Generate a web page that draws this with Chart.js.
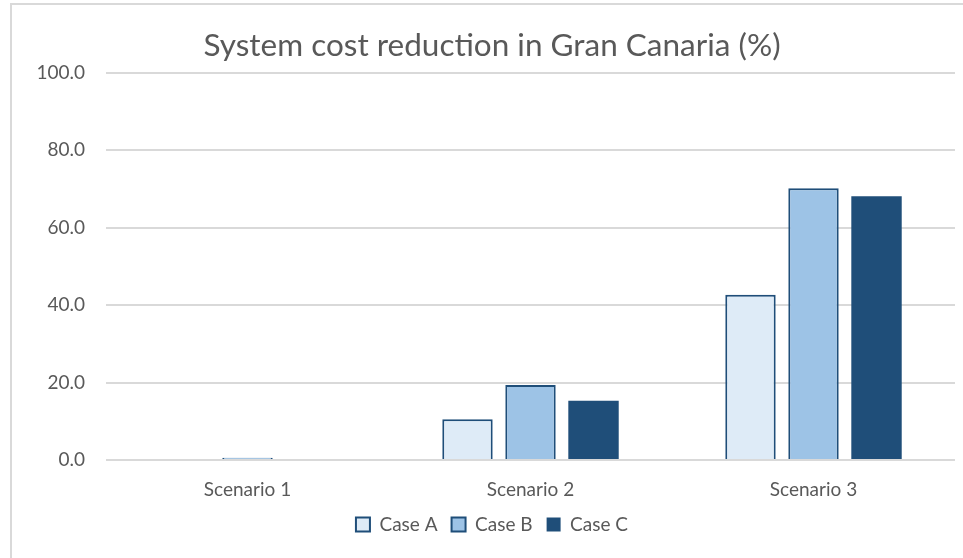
<!DOCTYPE html>
<html>
<head>
<meta charset="utf-8">
<script src="https://cdn.jsdelivr.net/npm/chart.js@4/dist/chart.umd.min.js"></script>
<style>
  html, body { margin: 0; padding: 0; background: #fff; }
  #wrap { position: relative; width: 963px; height: 558px; overflow: hidden; }
  #frame { position: absolute; left: 10px; top: 3px; width: 970px; height: 580px;
           border: 2px solid #d9d9d9; box-sizing: border-box; pointer-events: none; }
  canvas { position: absolute; left: 0; top: 0; }
</style>
</head>
<body>
<div id="wrap">
  <canvas id="chart" width="963" height="558"></canvas>
  <div id="frame"></div>
</div>
<script>
const titleText = 'System cost reduction in Gran Canaria (%)';
const scenarios = ['Scenario 1', 'Scenario 2', 'Scenario 3'];
const caseNames = ['Case A', 'Case B', 'Case C'];
const caseA = [0, 10.5, 42.7];
const caseB = [0.6, 19.4, 70.2];
const caseC = [0, 15.3, 68.1];
const yTicks = [0, 20, 40, 60, 80, 100];

const FONT = 'Lato, "Open Sans", sans-serif';
const GREY = '#595959';
const EDGE = '#1f4e79';

const ctx = document.getElementById('chart').getContext('2d');
new Chart(ctx, {
  type: 'bar',
  data: {
    labels: scenarios,
    datasets: [
      { label: caseNames[0], data: caseA, backgroundColor: '#deebf7', borderColor: EDGE, borderWidth: 2 },
      { label: caseNames[1], data: caseB, backgroundColor: '#9dc3e6', borderColor: EDGE, borderWidth: 2 },
      { label: caseNames[2], data: caseC, backgroundColor: '#1f4e79', borderColor: EDGE, borderWidth: 0 }
    ]
  },
  options: {
    responsive: false,
    animation: false,
    categoryPercentage: 0.668,
    barPercentage: 0.8,
    layout: { padding: { left: 29, right: 8, top: 27, bottom: 14 } },
    plugins: {
      title: {
        display: true,
        text: titleText,
        color: GREY,
        font: { family: FONT, size: 31.5, weight: 'normal' },
        padding: { top: 0, bottom: 8 }
      },
      legend: {
        position: 'bottom',
        labels: {
          color: GREY,
          font: { family: FONT, size: 19 },
          boxWidth: 14,
          boxHeight: 14,
          padding: 14
        }
      },
      tooltip: { enabled: false }
    },
    scales: {
      x: {
        afterFit: (s) => { s.height = 41; },
        grid: { display: false, drawTicks: false },
        border: { display: false },
        ticks: { color: GREY, font: { family: FONT, size: 19 }, padding: 18 }
      },
      y: {
        min: 0,
        max: 100,
        afterFit: (s) => { s.width = 77; },
        afterBuildTicks: (s) => { s.ticks = yTicks.map(v => ({ value: v })); },
        grid: { color: '#d9d9d9', lineWidth: 2, drawTicks: false },
        border: { display: false },
        ticks: {
          color: GREY,
          font: { family: FONT, size: 19 },
          padding: 21,
          callback: (v) => Number(v).toFixed(1)
        }
      }
    }
  }
});
</script>
</body>
</html>
